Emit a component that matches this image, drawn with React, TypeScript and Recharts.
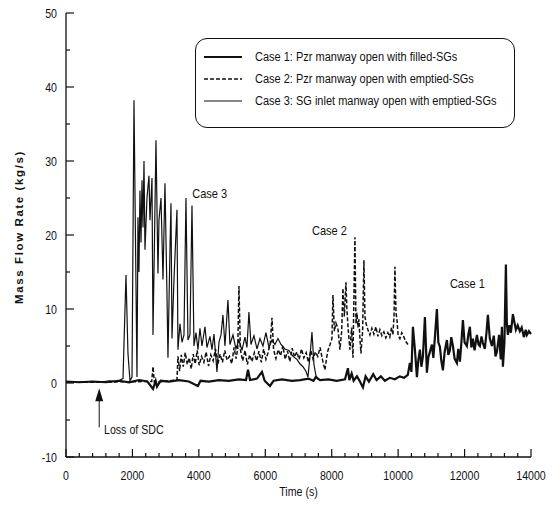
import React from 'react';
import { LineChart, Line, XAxis, YAxis, ReferenceDot, ReferenceLine } from 'recharts';

// time (s), mass flow rate (kg/s)
const case1Points: [number, number][] = [
  [0, 0.2], [400, 0.1], [800, 0.2], [1200, 0.1], [1600, 0.3], [1900, 0.1], [2200, 0.4], [2450, 0.2],
  [2620, -0.8], [2700, 0.3], [2740, -0.5], [2850, 0.3], [3100, 0.2], [3400, 0.4], [3700, 0.2], [3970, -0.4],
  [4050, 0.3], [4300, 0.2], [4600, 0.4], [4900, 0.3], [5200, 0.5], [5420, 0.4], [5480, 1.8], [5540, 0.4],
  [5750, 0.6], [5900, 1.5], [5980, 0.3], [6140, -0.4], [6250, 0.3], [6500, 0.5], [6800, 0.3], [7050, 0.4],
  [7300, 0.6], [7450, 0.3], [7520, 0.8], [7650, 0.4], [7900, 0.5], [8150, 0.3], [8400, 0.5], [8488, 2.0],
  [8530, 0.4], [8600, 1.3], [8660, 0.3], [8760, 0.9], [8850, 0.2], [8940, -0.6], [9020, 0.9], [9120, 0.2],
  [9250, 1.2], [9350, 0.4], [9480, 0.9], [9600, 0.3], [9750, 0.7], [9900, 0.5], [10050, 0.9], [10180, 0.7],
  [10290, 1.1], [10354, 2.7], [10400, 1.5], [10445, 7.6], [10505, 4.5], [10565, 0.8], [10610, 3.2], [10655, 4.5],
  [10700, 2.2], [10746, 3.6], [10806, 8.9], [10866, 1.4], [10910, 3.5], [10956, 4.2], [11017, 5.2], [11060, 3.4],
  [11107, 6.2], [11167, 10], [11210, 5.5], [11257, 4.9], [11300, 3], [11348, 1.7], [11400, 4.2], [11468, 5.8],
  [11510, 3.8], [11558, 4.4], [11600, 6.2], [11649, 5], [11700, 3.3], [11769, 2.7], [11810, 4.6], [11859, 2.9],
  [11900, 5.2], [11950, 8.5], [12000, 5.5], [12070, 5], [12115, 6.6], [12160, 7.6], [12205, 4.8], [12251, 6],
  [12300, 4.4], [12371, 6.5], [12420, 5.2], [12461, 5], [12510, 6.3], [12552, 5.4], [12610, 4.6], [12660, 6.8],
  [12702, 9.2], [12760, 6], [12823, 5], [12880, 6.4], [12930, 3.6], [12973, 4.2], [13040, 6.5], [13090, 3.2],
  [13124, 7.6], [13154, 2.2], [13200, 5.5], [13244, 16], [13274, 8], [13304, 6.5], [13350, 7.8], [13395, 6.8],
  [13455, 9.3], [13500, 8.2], [13545, 7.2], [13600, 7.8], [13665, 7], [13720, 7.5], [13786, 6.2], [13840, 7.2],
  [13876, 6.5], [13940, 7], [14000, 6.6],
];

const case2Points: [number, number][] = [
  [0, 0.1], [800, 0.1], [1500, 0.15], [2580, 0.2], [2620, 2.2], [2660, 0.1], [3340, 0.4], [3371, 3.6],
  [3420, 1.6], [3470, 3.8], [3530, 2.2], [3590, 4.1], [3650, 2.5], [3710, 3.4], [3770, 1.9], [3830, 3.9],
  [3890, 2.6], [3950, 4.4], [4010, 2.4], [4080, 3.6], [4150, 2.8], [4220, 4.2], [4290, 2.3], [4360, 3.8],
  [4430, 3], [4500, 4.6], [4570, 2.5], [4640, 3.9], [4710, 2.8], [4780, 4.4], [4850, 3.1], [4920, 3.6],
  [4990, 2.6], [5060, 4.8], [5120, 3.3], [5170, 4.6], [5207, 13.1], [5250, 4.5], [5320, 3], [5390, 4.4],
  [5460, 2.5], [5530, 3.8], [5600, 2.9], [5670, 4.1], [5740, 3], [5810, 4.3], [5880, 2.8], [5950, 4.6],
  [6020, 3.2], [6090, 4.2], [6150, 5.4], [6201, 8.8], [6250, 4.5], [6320, 3.3], [6390, 4.5], [6460, 3.7],
  [6530, 5], [6600, 3.2], [6670, 4.3], [6740, 2.9], [6810, 4.7], [6880, 3.5], [6950, 4.2], [7020, 3.2],
  [7090, 4.6], [7160, 3.4], [7230, 4.1], [7300, 2.8], [7370, 4.4], [7440, 3.2], [7510, 4.2], [7580, 3.6],
  [7650, 4.8], [7720, 3.2], [7796, 1.75], [7850, 3.5], [7886, 4.4], [7950, 5.2], [8007, 6], [8037, 11.9],
  [8080, 7], [8127, 8.1], [8187, 7.4], [8247, 4.5], [8300, 7], [8338, 12.8], [8380, 9], [8428, 13.6],
  [8458, 9.9], [8500, 7], [8548, 4.5], [8600, 7.5], [8639, 3.4], [8699, 19.7], [8730, 8], [8759, 9.5],
  [8790, 7.5], [8819, 8.6], [8850, 6], [8880, 4], [8930, 7], [8970, 16.6], [9000, 9], [9030, 8.1],
  [9090, 7.2], [9150, 6.5], [9210, 7.4], [9270, 6.6], [9330, 7.6], [9390, 6.3], [9450, 7.2], [9510, 6.4],
  [9570, 6.9], [9630, 6.1], [9692, 6.8], [9750, 6.2], [9800, 7.5], [9843, 6.5], [9875, 9], [9903, 15.7],
  [9935, 9.5], [9963, 8.6], [10000, 6.4], [10053, 6], [10110, 6.8], [10174, 6.2], [10230, 5.6], [10294, 5.2],
];

const case3Points: [number, number][] = [
  [0, 0.1], [400, 0.1], [800, 0.2], [1000, 0.1], [1300, 0.3], [1500, 0.2], [1625, 0.4], [1716, 0.6],
  [1806, 14.6], [1866, 4], [1926, 0.3], [1987, 0.8], [2047, 38.2], [2137, 0.8], [2167, 22.4], [2197, 15],
  [2227, 26], [2258, 19], [2288, 27.4], [2318, 21], [2348, 30], [2378, 18], [2438, 25], [2498, 28],
  [2528, 22], [2589, 27.7], [2619, 6.5], [2649, 15], [2709, 32.8], [2769, 14.8], [2799, 22], [2860, 25],
  [2920, 14], [2980, 27], [3040, 12], [3070, 3.4], [3130, 18], [3161, 24.3], [3191, 6], [3251, 14],
  [3341, 23.4], [3371, 4.5], [3431, 8], [3492, 5.5], [3552, 6.5], [3612, 25], [3672, 5.8], [3732, 6.5],
  [3793, 24], [3853, 5], [3913, 6.8], [3973, 4.5], [4033, 7.4], [4094, 5], [4184, 7.6], [4244, 4.8],
  [4334, 6.3], [4395, 4.5], [4455, 6.6], [4545, 1.5], [4605, 5.5], [4666, 6.5], [4726, 9.2], [4786, 5],
  [4876, 11.2], [4936, 5.2], [5027, 6.5], [5117, 4.6], [5207, 5.8], [5298, 4.4], [5388, 6.2], [5448, 4.8],
  [5508, 9.6], [5569, 5.2], [5659, 6.4], [5749, 4.6], [5839, 6], [5930, 5], [6020, 6.8], [6110, 4.8],
  [6201, 5.8], [6291, 5.2], [6381, 6], [6472, 5.2], [6592, 4.6], [6712, 4.4], [6833, 3.6], [6953, 3.2],
  [7043, 2.6], [7134, 2.2], [7224, 1.6], [7284, 0.8], [7344, 3.5], [7405, 6.9], [7465, 2.5], [7525, 1.0],
  [7585, 0.5], [7706, 0.4],
];

const xMajor = [0, 2000, 4000, 6000, 8000, 10000, 12000, 14000];
const xTicks = [
  0, 400, 800, 1200, 1600, 2000, 2400, 2800, 3200, 3600, 4000, 4400, 4800, 5200, 5600, 6000, 6400, 6800,
  7200, 7600, 8000, 8400, 8800, 9200, 9600, 10000, 10400, 10800, 11200, 11600, 12000, 12400, 12800, 13200,
  13600, 14000,
];
const yMajor = [-10, 0, 10, 20, 30, 40, 50];
const yTicks = [-10, -5, 0, 5, 10, 15, 20, 25, 30, 35, 40, 45, 50];

const legendItems = [
  { label: 'Case 1: Pzr manway open with filled-SGs', width: 2.2, dash: '' },
  { label: 'Case 2: Pzr manway open with emptied-SGs', width: 1.5, dash: '4 2' },
  { label: 'Case 3: SG inlet manway open with emptied-SGs', width: 1.2, dash: '' },
];

const FONT = "'Liberation Sans', Arial, sans-serif";
const INK = '#111';
const SQUEEZE = 0.85;

const toRows = (pts: [number, number][]) => pts.map(([t, v]) => ({ t, v }));
const case1 = toRows(case1Points);
const case2 = toRows(case2Points);
const case3 = toRows(case3Points);

// condensed text, the scan uses a narrow face
const Narrow = ({ x, y, size = 12, anchor = 'start', children }: any) => (
  <text
    transform={`translate(${x},${y}) scale(${SQUEEZE},1)`}
    textAnchor={anchor}
    fontSize={size}
    fontFamily={FONT}
    fill={INK}
  >
    {children}
  </text>
);

const BottomTick = ({ x, y, payload }: any) => {
  const major = xMajor.includes(payload.value);
  return (
    <g>
      <line x1={x} x2={x} y1={y} y2={y - (major ? 8 : 4)} stroke={INK} strokeWidth={1.2} />
      {major && (
        <Narrow x={x} y={y + 23} size={12.5} anchor="middle">
          {payload.value}
        </Narrow>
      )}
    </g>
  );
};

const TopTick = ({ x, y, payload }: any) => {
  const major = xMajor.includes(payload.value);
  return <line x1={x} x2={x} y1={y} y2={y + (major ? 8 : 4)} stroke={INK} strokeWidth={1.2} />;
};

const LeftTick = ({ x, y, payload }: any) => {
  const major = yMajor.includes(payload.value);
  return (
    <g>
      <line x1={x} x2={x + (major ? 8 : 4)} y1={y} y2={y} stroke={INK} strokeWidth={1.2} />
      {major && (
        <Narrow x={x - 9} y={y + 4.5} size={12.5} anchor="end">
          {payload.value}
        </Narrow>
      )}
    </g>
  );
};

const RightTick = ({ x, y, payload }: any) => {
  const major = yMajor.includes(payload.value);
  return <line x1={x} x2={x - (major ? 8 : 4)} y1={y} y2={y} stroke={INK} strokeWidth={1.2} />;
};

const YTitle = ({ viewBox }: any) => {
  const cy = viewBox ? viewBox.y + viewBox.height / 2 - 8 : 227;
  return (
    <text
      transform={`translate(23, ${cy}) rotate(-90)`}
      textAnchor="middle"
      fontSize={11.5}
      fontWeight="bold"
      letterSpacing={1.6}
      fontFamily={FONT}
      fill={INK}
    >
      Mass Flow Rate (kg/s)
    </text>
  );
};

const XTitle = ({ viewBox }: any) => {
  const cx = viewBox ? viewBox.x + viewBox.width / 2 : 298;
  return (
    <Narrow x={cx} y={496} size={12.5} anchor="middle">
      Time (s)
    </Narrow>
  );
};

const note = (text: string, size = 13) => (p: any) => (
  <Narrow x={p.cx} y={p.cy} size={size}>
    {text}
  </Narrow>
);

const ArrowHead = (p: any) => (
  <polygon points={`${p.cx},${p.cy} ${p.cx - 4},${p.cy + 13} ${p.cx + 4},${p.cy + 13}`} fill={INK} />
);

export default function App() {
  return (
    <div style={{ position: 'absolute', left: 0, top: 0, width: 555, height: 506, background: '#fff' }}>
      <LineChart width={555} height={506} margin={{ top: 13, right: 24, bottom: 0, left: 0 }}>
        <XAxis
          xAxisId="b"
          dataKey="t"
          type="number"
          domain={[0, 14000]}
          ticks={xTicks}
          interval={0}
          height={49}
          tickSize={0}
          tickMargin={0}
          tickLine={false}
          axisLine={{ stroke: INK, strokeWidth: 1.3 }}
          tick={<BottomTick />}
          label={<XTitle />}
        />
        <XAxis
          xAxisId="top"
          orientation="top"
          dataKey="t"
          type="number"
          domain={[0, 14000]}
          ticks={xTicks}
          interval={0}
          height={0}
          tickSize={0}
          tickMargin={0}
          tickLine={false}
          axisLine={{ stroke: INK, strokeWidth: 1.3 }}
          tick={<TopTick />}
        />
        <YAxis
          yAxisId="l"
          type="number"
          domain={[-10, 50]}
          ticks={yTicks}
          interval={0}
          width={66}
          tickSize={0}
          tickMargin={0}
          tickLine={false}
          axisLine={{ stroke: INK, strokeWidth: 1.3 }}
          tick={<LeftTick />}
          label={<YTitle />}
        />
        <YAxis
          yAxisId="r"
          orientation="right"
          type="number"
          domain={[-10, 50]}
          ticks={yTicks}
          interval={0}
          width={0}
          tickSize={0}
          tickMargin={0}
          tickLine={false}
          axisLine={{ stroke: INK, strokeWidth: 1.3 }}
          tick={<RightTick />}
        />

        <Line xAxisId="b" yAxisId="l" data={case3} dataKey="v" type="linear" stroke={INK} strokeWidth={1.2} dot={false} isAnimationActive={false} />
        <Line xAxisId="b" yAxisId="l" data={case2} dataKey="v" type="linear" stroke={INK} strokeWidth={1.5} strokeDasharray="4 2" dot={false} isAnimationActive={false} />
        <Line xAxisId="b" yAxisId="l" data={case1} dataKey="v" type="linear" stroke={INK} strokeWidth={2.2} dot={false} isAnimationActive={false} />

        <ReferenceDot xAxisId="b" yAxisId="l" x={3800} y={25} r={0} shape={note('Case 3')} />
        <ReferenceDot xAxisId="b" yAxisId="l" x={7405} y={20} r={0} shape={note('Case 2')} />
        <ReferenceDot xAxisId="b" yAxisId="l" x={11558} y={12.8} r={0} shape={note('Case 1')} />
        <ReferenceDot xAxisId="b" yAxisId="l" x={1144} y={-6.9} r={0} shape={note('Loss of SDC', 12.5)} />
        <ReferenceLine xAxisId="b" yAxisId="l" segment={[{ x: 1000, y: -2.2 }, { x: 1000, y: -6 }]} stroke={INK} strokeWidth={1} />
        <ReferenceDot xAxisId="b" yAxisId="l" x={1000} y={-0.7} r={0} shape={ArrowHead} />
      </LineChart>

      <div
        style={{
          position: 'absolute',
          left: 195,
          top: 38,
          width: 320,
          height: 90,
          boxSizing: 'border-box',
          border: `1.5px solid ${INK}`,
          borderRadius: 12,
          background: '#fff',
          fontFamily: FONT,
          fontSize: 12.5,
          color: INK,
        }}
      >
        {legendItems.map((it, i) => (
          <div key={it.label} style={{ position: 'absolute', left: 7, top: 10 + i * 22, height: 16, display: 'flex', alignItems: 'center' }}>
            <svg width={40} height={16}>
              <line x1={1} x2={39} y1={8} y2={8} stroke={INK} strokeWidth={it.width} strokeDasharray={it.dash || undefined} />
            </svg>
            <span
              style={{
                marginLeft: 12,
                whiteSpace: 'nowrap',
                display: 'inline-block',
                transform: 'scaleX(0.88)',
                transformOrigin: 'left center',
              }}
            >
              {it.label}
            </span>
          </div>
        ))}
      </div>
    </div>
  );
}
